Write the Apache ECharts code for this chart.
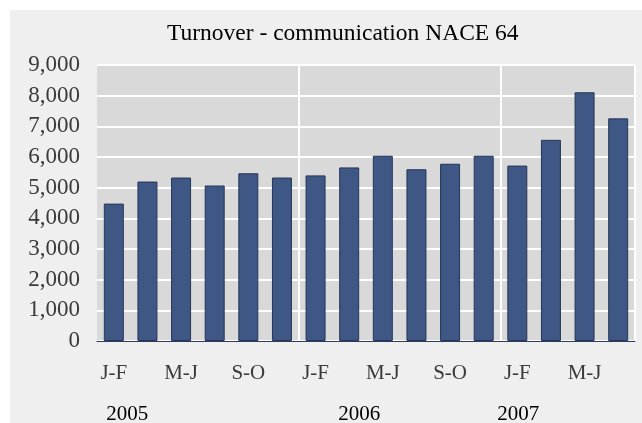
<!DOCTYPE html>
<html>
<head>
<meta charset="utf-8">
<script src="https://cdn.jsdelivr.net/npm/echarts@6/dist/echarts.min.js"></script>
<style>
    html, body { margin: 0; padding: 0; background: #ffffff; }
    #chart { position: absolute; left: 10px; top: 10px; width: 632px; height: 413px; background: #efefef; }
</style>
</head>
<body>
<div id="chart"></div>
<script>
var categories = ['J-F', 'M-A', 'M-J', 'J-A', 'S-O', 'N-D',
                  'J-F', 'M-A', 'M-J', 'J-A', 'S-O', 'N-D',
                  'J-F', 'M-A', 'M-J', 'J-A'];
var turnover = [4480, 5200, 5330, 5070, 5470, 5330,
                5400, 5660, 6040, 5600, 5780, 6040,
                5720, 6560, 8110, 7260];
// year caption shown under the category where it sits in the picture
var yearLabels = ['2005', '', '', '', '', '', '', '2006', '', '', '', '', '2007', '', '', ''];
var yearStyle = {'2005': 'a', '2006': 'b', '2007': 'c'};

var font = '"Liberation Serif", "Times New Roman", serif';

var option = {
    animation: false,
    title: {
        text: 'Turnover - communication NACE 64',
        left: 157,
        top: 12,
        padding: 0,
        textStyle: {fontFamily: font, fontSize: 23.5, fontWeight: 'normal', color: '#000000'}
    },
    grid: {
        left: 87,
        right: 7,
        top: 55,
        bottom: 82,
        outerBoundsMode: 'none',
        show: true,
        backgroundColor: '#d9d9d9',
        borderWidth: 0
    },
    xAxis: [
        {
            type: 'category',
            data: categories,
            axisLine: {lineStyle: {color: '#2e3d5e', width: 1}},
            axisTick: {show: false},
            axisLabel: {
                interval: 1,
                margin: 22,
                fontFamily: font,
                fontSize: 21,
                color: '#3a3a3a'
            },
            splitLine: {
                show: true,
                interval: function (index) {
                    return index === 6 || index === 12;
                },
                lineStyle: {color: '#ffffff', width: 2}
            }
        },
        {
            type: 'category',
            data: categories,
            position: 'bottom',
            axisLine: {show: false},
            axisTick: {show: false},
            axisLabel: {
                interval: 0,
                margin: 63,
                fontFamily: font,
                fontSize: 21,
                color: '#000000',
                formatter: function (value, index) {
                    var y = yearLabels[index];
                    return y ? '{' + yearStyle[y] + '|' + y + '}' : '';
                },
                rich: {
                    a: {fontFamily: font, fontSize: 21, padding: [0, 0, 0, 27]},
                    b: {fontFamily: font, fontSize: 21, padding: [0, 0, 0, 20]},
                    c: {fontFamily: font, fontSize: 21, padding: [0, 0, 6, 2]}
                }
            }
        }
    ],
    yAxis: {
        type: 'value',
        min: 0,
        max: 9000,
        interval: 1000,
        axisLine: {show: false},
        axisTick: {show: false},
        axisLabel: {
            margin: 17,
            fontFamily: font,
            fontSize: 23,
            color: '#3a3a3a',
            formatter: function (v) {
                return v.toLocaleString('en-US');
            }
        },
        splitLine: {lineStyle: {color: '#ffffff', width: 2}}
    },
    series: [
        {
            name: 'Turnover',
            type: 'bar',
            data: turnover,
            barWidth: 20,
            itemStyle: {color: '#3e5785', borderColor: '#263656', borderWidth: 1}
        }
    ]
};

var myChart = echarts.init(document.getElementById('chart'));
myChart.setOption(option);
</script>
</body>
</html>
